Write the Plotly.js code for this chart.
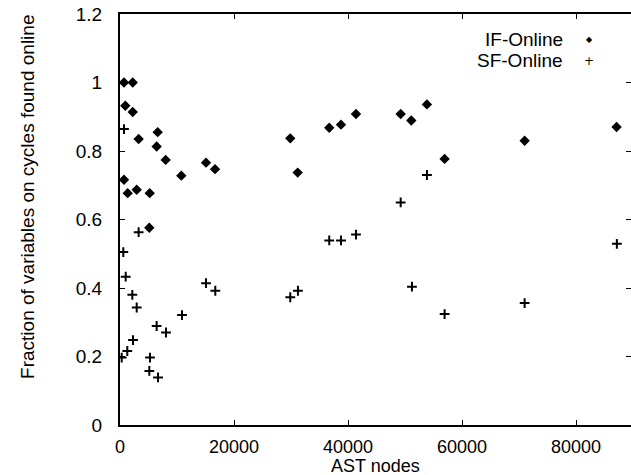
<!DOCTYPE html>
<html>
<head>
<meta charset="utf-8">
<script src="https://cdn.plot.ly/plotly-3.0.1.min.js"></script>
<style>html,body{margin:0;padding:0;background:#fff;}#chart{width:631px;height:475px;}</style>
</head>
<body>
<div id="chart"></div>
<script>
// IF-Online (diamonds)
const ifX = [700, 2230, 930, 2230, 3270, 6610, 6430, 8010, 10760, 15090, 16670, 700, 1350, 2930, 5210, 5140, 29870, 31170, 36710, 38770, 41400, 49240, 51100, 53850, 56950, 70990, 87120];
const ifY = [1.0, 1.0, 0.932, 0.914, 0.835, 0.855, 0.813, 0.774, 0.728, 0.766, 0.747, 0.716, 0.677, 0.687, 0.677, 0.576, 0.837, 0.737, 0.868, 0.877, 0.908, 0.908, 0.889, 0.936, 0.777, 0.830, 0.870];
// SF-Online (plus)
const sfX = [700, 3270, 580, 1000, 2160, 2930, 10880, 6430, 8070, 2280, 1280, 300, 5260, 5140, 6670, 15090, 16720, 29870, 31220, 36710, 38770, 41400, 51220, 56950, 70990, 87170, 53850, 49240];
const sfY = [0.864, 0.563, 0.505, 0.433, 0.380, 0.343, 0.321, 0.289, 0.270, 0.248, 0.216, 0.197, 0.197, 0.158, 0.139, 0.414, 0.392, 0.373, 0.392, 0.539, 0.539, 0.556, 0.404, 0.324, 0.356, 0.529, 0.730, 0.650];
const seriesNames = ["IF-Online", "SF-Online"];
const xTicks = [0, 20000, 40000, 60000, 80000];
const yTicks = [0, 0.2, 0.4, 0.6, 0.8, 1, 1.2];
const xTitle = "AST nodes";
const yTitle = "Fraction of variables on cycles found online";

const font = {family: "Liberation Sans, Arial, sans-serif", size: 19, color: "#000"};

const traces = [
  {x: ifX, y: ifY, name: seriesNames[0], mode: "markers", type: "scatter",
   marker: {symbol: "diamond", size: 8, color: "#000"}},
  {x: sfX, y: sfY, name: seriesNames[1], mode: "markers", type: "scatter",
   marker: {symbol: "cross-thin", size: 7, color: "#000", line: {width: 2, color: "#000"}}}
];

const layout = {
  width: 631, height: 475,
  margin: {l: 120, r: 0, t: 14, b: 50},
  paper_bgcolor: "#fff", plot_bgcolor: "#fff",
  showlegend: false,
  font: font,
  xaxis: {
    range: [0, 89650], tickvals: xTicks, ticktext: xTicks.map(String),
    ticks: "inside", ticklen: 5, tickwidth: 1, tickcolor: "#000",
    showline: true, linecolor: "#000", linewidth: 2, mirror: "ticks",
    showgrid: false, zeroline: false,
    tickfont: {family: font.family, size: 18, color: "#000"}, ticklabelstandoff: 4
  },
  yaxis: {
    range: [0, 1.2], tickvals: yTicks, ticktext: yTicks.map(v => String(v)),
    ticks: "inside", ticklen: 5, tickwidth: 1, tickcolor: "#000",
    showline: true, linecolor: "#000", linewidth: 2, mirror: "ticks",
    showgrid: false, zeroline: false,
    tickfont: font, ticklabelstandoff: 12
  },
  annotations: [
    {xref: "paper", yref: "paper", x: 0.5, y: -0.099, xanchor: "center", yanchor: "middle",
     text: xTitle, showarrow: false, font: {family: font.family, size: 18, color: "#000"}},
    {xref: "paper", yref: "paper", x: -0.18, y: 0.555, xanchor: "center", yanchor: "middle",
     textangle: -90, text: yTitle, showarrow: false, font: font},
    {xref: "paper", yref: "paper", x: 0.871, y: 0.939, xanchor: "right", yanchor: "middle",
     text: seriesNames[0], showarrow: false, font: font},
    {xref: "paper", yref: "paper", x: 0.871, y: 0.886, xanchor: "right", yanchor: "middle",
     text: seriesNames[1], showarrow: false, font: font},
    {xref: "paper", yref: "paper", x: 0.918, y: 0.939, xanchor: "center", yanchor: "middle",
     text: "◆", showarrow: false, font: {family: "DejaVu Sans", size: 8, color: "#000"}},
    {xref: "paper", yref: "paper", x: 0.918, y: 0.886, xanchor: "center", yanchor: "middle",
     text: "+", showarrow: false, font: {family: "DejaVu Sans", size: 12, color: "#000"}}
  ]
};

Plotly.newPlot("chart", traces, layout, {displayModeBar: false, staticPlot: true});
</script>
</body>
</html>
